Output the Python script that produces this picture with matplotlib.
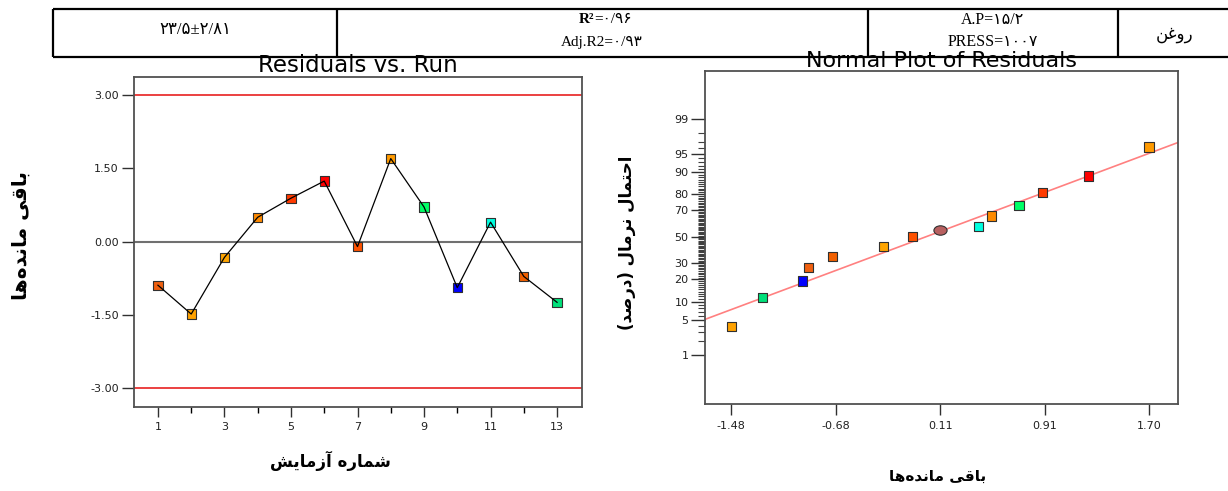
import numpy as np
import matplotlib
matplotlib.use("Agg")
import matplotlib.pyplot as plt
from matplotlib.path import Path
from statistics import NormalDist

# ---- values ----
runs = [1, 2, 3, 4, 5, 6, 7, 8, 9, 10, 11, 12, 13]
residuals = [-0.89, -1.48, -0.32, 0.50, 0.89, 1.24, -0.10, 1.70, 0.71, -0.94, 0.40, -0.71, -1.24]
run_colors = ['#F06010', '#FFA200', '#FFA500', '#FF8A00', '#FF3A00', '#FF0000', '#FF5200',
              '#FF9A00', '#00FF66', '#0000FF', '#00FFE0', '#F26000', '#00E07A']
ctrl_limits = [-3.0, 3.0]
run_yticks = [-3.0, -1.5, 0.0, 1.5, 3.0]
run_xticks = [1, 3, 5, 7, 9, 11, 13]

# normal plot: probability (%) of each sorted residual
norm_prob = [3.9, 11.7, 19.2, 27.0, 34.9, 42.7, 50.0, 57.8, 65.9, 73.4, 80.9, 88.5, 96.2]
fit_slope = 0.97   # z-score per unit residual
fit_icept = 0.0
cursor_x = [0.11]
cursor_p = [55.5]
norm_xticks = [-1.48, -0.685, 0.11, 0.905, 1.70]
norm_xlabels = ['-1.48', '-0.68', '0.11', '0.91', '1.70']
norm_yticks = [1, 5, 10, 20, 30, 50, 70, 80, 90, 95, 99]

# table row
tab_mean = '۲۳/۵±۲/۸۱'
tab_r2 = '=۰/۹۶'
tab_adj = 'Adj.R2=۰/۹۳'
tab_ap = 'A.P=۱۵/۲'
tab_press = 'PRESS=۱۰۰۷'
tab_name = 'روغن'

lbl_resid = 'باقی مانده\u200cها'
lbl_run = 'شماره آزمایش'
lbl_prob = 'احتمال نرمال (درصد)'

# ---- minimal arabic shaping (matplotlib has no bidi / joining) ----
FORMS = {
    'ا': (0xFE8D, 0xFE8E, None, None), 'آ': (0xFE81, 0xFE82, None, None),
    'ب': (0xFE8F, 0xFE90, 0xFE91, 0xFE92), 'ت': (0xFE95, 0xFE96, 0xFE97, 0xFE98),
    'ح': (0xFEA1, 0xFEA2, 0xFEA3, 0xFEA4), 'د': (0xFEA9, 0xFEAA, None, None),
    'ر': (0xFEAD, 0xFEAE, None, None), 'ز': (0xFEAF, 0xFEB0, None, None),
    'ش': (0xFEB5, 0xFEB6, 0xFEB7, 0xFEB8), 'ص': (0xFEB9, 0xFEBA, 0xFEBB, 0xFEBC),
    'غ': (0xFECD, 0xFECE, 0xFECF, 0xFED0), 'ق': (0xFED5, 0xFED6, 0xFED7, 0xFED8),
    'ل': (0xFEDD, 0xFEDE, 0xFEDF, 0xFEE0), 'م': (0xFEE1, 0xFEE2, 0xFEE3, 0xFEE4),
    'ن': (0xFEE5, 0xFEE6, 0xFEE7, 0xFEE8), 'ه': (0xFEE9, 0xFEEA, 0xFEEB, 0xFEEC),
    'و': (0xFEED, 0xFEEE, None, None), 'ی': (0xFBFC, 0xFBFD, 0xFBFE, 0xFBFF),
}


def shape(s):
    out = []
    for i, c in enumerate(s):
        if c not in FORMS:
            if c != '\u200c':
                out.append(c)
            continue
        prev = s[i - 1] if i > 0 else ''
        nxt = s[i + 1] if i + 1 < len(s) else ''
        p = prev in FORMS and FORMS[prev][2] is not None
        n = nxt in FORMS and FORMS[c][2] is not None
        iso, fin, ini, med = FORMS[c]
        g = med if (p and n) else fin if p else ini if n else iso
        out.append(chr(g))
    vis = ''.join(reversed(out))
    return vis.translate(str.maketrans('()', ')('))


ND = NormalDist()
p2z = np.vectorize(lambda v: ND.inv_cdf(min(max(v, 1e-7), 100 - 1e-7) / 100.0), otypes=[float])
z2p = np.vectorize(lambda v: ND.cdf(v) * 100.0, otypes=[float])

plt.rcParams['font.family'] = ['DejaVu Sans']
fig = plt.figure(figsize=(12.28, 4.91), dpi=100)

spine_col = '#505050'
tick_font = dict(labelsize=8, labelcolor='#202020', color='#303030')

# ---- residuals vs run ----
ax1 = fig.add_axes([134 / 1228, 1 - 406.7 / 491, 448 / 1228, 330 / 491])
ax1.plot(runs, residuals, color='black', lw=0.9, zorder=4)
ax1.scatter(runs, residuals, marker='s', s=44, c=run_colors, edgecolors='#303030',
            linewidths=0.8, zorder=3)
for lim in ctrl_limits:
    ax1.axhline(lim, color='#E82020', lw=1.2, zorder=2)
ax1.axhline(0.0, color='#707070', lw=1.5, zorder=2)
ax1.set_xlim(0.28, 13.75)
ax1.set_ylim(-3.375, 3.375)
ax1.set_yticks(run_yticks)
ax1.set_yticklabels(['%.2f' % v for v in run_yticks])
ax1.set_xticks(run_xticks)
ax1.set_xticks([r for r in runs if r not in run_xticks], minor=True)
ax1.tick_params(axis='y', direction='out', length=9, width=1, pad=2, **tick_font)
ax1.tick_params(axis='x', which='major', direction='out', length=7, width=1, pad=4, **tick_font)
ax1.tick_params(axis='x', which='minor', direction='out', length=4, width=1)
ax1.set_title('Residuals vs. Run', fontsize=16.5, pad=2)

# ---- normal plot of residuals ----
ax2 = fig.add_axes([705 / 1228, 1 - 404 / 491, 473 / 1228, 333.3 / 491])
ax2.set_yscale('function', functions=(p2z, z2p))
sorted_res = sorted(residuals)
sorted_cols = [run_colors[i] for i in np.argsort(residuals)]
xl = (-1.68, 1.92)
ax2.plot(xl, z2p(np.array(xl) * fit_slope + fit_icept), color='#FF8080', lw=1.2, zorder=2)
ax2.scatter(sorted_res, norm_prob, marker='s', s=44, c=sorted_cols, edgecolors='#303030',
            linewidths=0.8, zorder=3)
circ = Path.unit_circle()
ell = Path(circ.vertices * [1.4, 1.0], circ.codes)
ax2.scatter(cursor_x, cursor_p, marker=ell, s=90, c='#B86060', edgecolors='#303030',
            linewidths=0.8, zorder=4)
ax2.set_xlim(*xl)
ax2.set_ylim(z2p(-3.30), z2p(3.28))
ax2.set_yticks(norm_yticks)
ax2.set_yticklabels([str(v) for v in norm_yticks])
ax2.set_yticks([v for v in range(2, 99) if v not in norm_yticks], minor=True)
ax2.yaxis.set_minor_formatter(plt.NullFormatter())
ax2.set_xticks(norm_xticks)
ax2.set_xticklabels(norm_xlabels)
ax2.tick_params(axis='y', which='major', direction='out', length=10, width=1, pad=2, **tick_font)
ax2.tick_params(axis='y', which='minor', direction='out', length=5, width=0.8, color='#404040')
ax2.tick_params(axis='x', direction='out', length=8, width=1, pad=4, **tick_font)
ax2.set_title('Normal Plot of Residuals', fontsize=16, pad=1)

for ax in (ax1, ax2):
    for sp in ax.spines.values():
        sp.set_color(spine_col)
        sp.set_linewidth(1.3)

# ---- overlay in pixel units: table row and axis labels ----
ov = fig.add_axes([0, 0, 1, 1], zorder=10)
ov.set_xlim(0, 1228)
ov.set_ylim(491, 0)
ov.axis('off')
ov.patch.set_alpha(0)

tl, tr, tt, tb = 53, 1240, 8.7, 57.3
ov.plot([tl, tr], [tt, tt], color='black', lw=1.6, solid_capstyle='butt')
ov.plot([tl, tr], [tb, tb], color='black', lw=1.6, solid_capstyle='butt')
for xv in (tl, 337, 868, 1118):
    ov.plot([xv, xv], [tt, tb], color='black', lw=1.6, solid_capstyle='butt')

serif = ['Liberation Serif', 'DejaVu Sans']
ov.text(195, 30, tab_mean, family=serif, fontsize=12, ha='center', va='center')
ov.text(594, 19, 'R²', family=serif, fontsize=11, weight='bold', ha='right', va='center')
ov.text(594, 19, tab_r2, family=serif, fontsize=11, ha='left', va='center')
ov.text(602, 42, tab_adj, family=serif, fontsize=11, ha='center', va='center')
ov.text(993, 20, tab_ap, family=serif, fontsize=11.5, ha='center', va='center')
ov.text(993, 41.5, tab_press, family=serif, fontsize=11.5, ha='center', va='center')
ov.text(1175, 34, shape(tab_name), family=['DejaVu Sans'], fontsize=12, ha='center', va='center')

lab = dict(family=['DejaVu Sans'], weight='bold', ha='center', va='center')
ov.text(21, 236, shape(lbl_resid), rotation=90, fontsize=14.5, **lab)
ov.text(330, 461, shape(lbl_run), fontsize=12, **lab)
ov.text(627, 243, shape(lbl_prob), rotation=90, fontsize=12, **lab)
ov.text(938, 476, shape(lbl_resid), fontsize=11, **lab)

fig.savefig('out.png', dpi=100)
